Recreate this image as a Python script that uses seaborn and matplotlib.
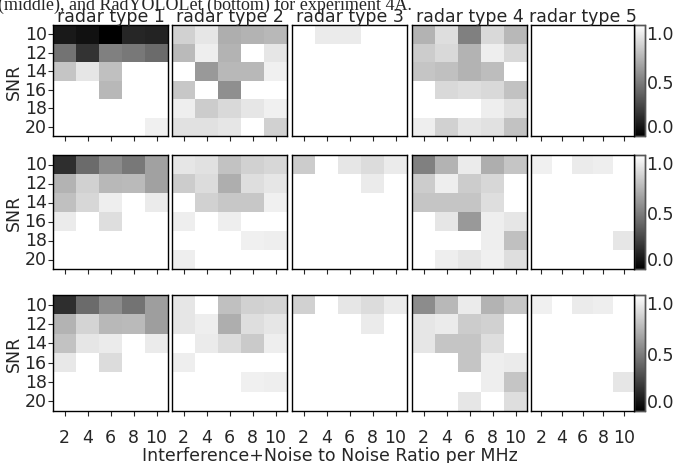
import numpy as np
import pandas as pd
import matplotlib
matplotlib.use("Agg")
import matplotlib.pyplot as plt
import seaborn as sns

snr = [10, 12, 14, 16, 18, 20]
inr = [2, 4, 6, 8, 10]
radar_titles = ["radar type 1", "radar type 2", "radar type 3", "radar type 4", "radar type 5"]

# Row 1 (top)
top_r1 = [[0.10, 0.07, 0.00, 0.15, 0.14],
          [0.45, 0.20, 0.50, 0.47, 0.42],
          [0.77, 0.90, 0.75, 1.00, 1.00],
          [1.00, 1.00, 0.72, 1.00, 1.00],
          [1.00, 1.00, 1.00, 1.00, 1.00],
          [1.00, 1.00, 1.00, 1.00, 0.94]]
top_r2 = [[0.82, 0.90, 0.68, 0.70, 0.72],
          [0.73, 0.93, 0.70, 1.00, 0.90],
          [1.00, 0.60, 0.72, 0.72, 0.94],
          [0.78, 1.00, 0.56, 1.00, 1.00],
          [0.93, 0.80, 0.85, 0.90, 0.94],
          [0.88, 0.88, 0.90, 1.00, 0.82]]
top_r3 = [[1.00, 0.92, 0.92, 1.00, 1.00],
          [1.00, 1.00, 1.00, 1.00, 1.00],
          [1.00, 1.00, 1.00, 1.00, 1.00],
          [1.00, 1.00, 1.00, 1.00, 1.00],
          [1.00, 1.00, 1.00, 1.00, 1.00],
          [1.00, 1.00, 1.00, 1.00, 1.00]]
top_r4 = [[0.70, 0.87, 0.50, 0.85, 0.72],
          [0.80, 0.85, 0.70, 0.93, 0.85],
          [0.77, 0.75, 0.70, 0.74, 1.00],
          [1.00, 0.85, 0.87, 0.85, 0.76],
          [1.00, 1.00, 1.00, 0.93, 0.88],
          [0.93, 0.82, 0.90, 0.88, 0.76]]
top_r5 = [[1.00] * 5 for _ in range(6)]

# Row 2 (middle)
mid_r1 = [[0.18, 0.42, 0.55, 0.47, 0.63],
          [0.70, 0.82, 0.72, 0.73, 0.63],
          [0.75, 0.84, 0.93, 1.00, 0.92],
          [0.92, 1.00, 0.87, 1.00, 1.00],
          [1.00, 1.00, 1.00, 1.00, 1.00],
          [1.00, 1.00, 1.00, 1.00, 1.00]]
mid_r2 = [[0.90, 0.88, 0.76, 0.82, 0.84],
          [0.80, 0.86, 0.68, 0.87, 0.90],
          [1.00, 0.82, 0.78, 0.78, 0.94],
          [0.93, 1.00, 0.93, 1.00, 1.00],
          [1.00, 1.00, 1.00, 0.94, 0.93],
          [0.93, 1.00, 1.00, 1.00, 1.00]]
mid_r3 = [[0.80, 1.00, 0.90, 0.86, 0.92],
          [1.00, 1.00, 1.00, 0.92, 1.00],
          [1.00, 1.00, 1.00, 1.00, 1.00],
          [1.00, 1.00, 1.00, 1.00, 1.00],
          [1.00, 1.00, 1.00, 1.00, 1.00],
          [1.00, 1.00, 1.00, 1.00, 1.00]]
mid_r4 = [[0.50, 0.70, 0.92, 0.68, 0.77],
          [0.80, 0.93, 0.80, 0.84, 1.00],
          [0.77, 0.77, 0.77, 0.87, 1.00],
          [1.00, 0.90, 0.60, 0.93, 0.90],
          [1.00, 1.00, 1.00, 0.93, 0.75],
          [1.00, 0.93, 0.90, 0.94, 0.87]]
mid_r5 = [[0.94, 1.00, 0.92, 0.93, 1.00],
          [1.00, 1.00, 1.00, 1.00, 1.00],
          [1.00, 1.00, 1.00, 1.00, 1.00],
          [1.00, 1.00, 1.00, 1.00, 1.00],
          [1.00, 1.00, 1.00, 1.00, 0.90],
          [1.00, 1.00, 1.00, 1.00, 1.00]]

# Row 3 (bottom)
bot_r1 = [[0.18, 0.42, 0.55, 0.45, 0.62],
          [0.70, 0.83, 0.72, 0.73, 0.62],
          [0.76, 0.90, 0.92, 1.00, 0.92],
          [0.91, 1.00, 0.86, 1.00, 1.00],
          [1.00, 1.00, 1.00, 1.00, 1.00],
          [1.00, 1.00, 1.00, 1.00, 1.00]]
bot_r2 = [[0.90, 1.00, 0.75, 0.82, 0.83],
          [0.90, 0.93, 0.68, 0.87, 0.90],
          [1.00, 0.92, 0.86, 0.79, 0.93],
          [0.93, 1.00, 1.00, 1.00, 1.00],
          [1.00, 1.00, 1.00, 0.94, 0.93],
          [1.00, 1.00, 1.00, 1.00, 1.00]]
bot_r3 = [[0.82, 1.00, 0.90, 0.86, 0.92],
          [1.00, 1.00, 1.00, 0.92, 1.00],
          [1.00, 1.00, 1.00, 1.00, 1.00],
          [1.00, 1.00, 1.00, 1.00, 1.00],
          [1.00, 1.00, 1.00, 1.00, 1.00],
          [1.00, 1.00, 1.00, 1.00, 1.00]]
bot_r4 = [[0.55, 0.72, 0.92, 0.70, 0.78],
          [0.90, 0.92, 0.80, 0.82, 1.00],
          [0.90, 0.77, 0.77, 0.87, 1.00],
          [1.00, 1.00, 0.77, 0.93, 0.92],
          [1.00, 1.00, 1.00, 0.93, 0.77],
          [1.00, 1.00, 0.90, 1.00, 0.87]]
bot_r5 = [[0.94, 1.00, 0.92, 0.93, 1.00],
          [1.00, 1.00, 1.00, 1.00, 1.00],
          [1.00, 1.00, 1.00, 1.00, 1.00],
          [1.00, 1.00, 1.00, 1.00, 1.00],
          [1.00, 1.00, 1.00, 1.00, 0.90],
          [1.00, 1.00, 1.00, 1.00, 1.00]]

rows_data = [[top_r1, top_r2, top_r3, top_r4, top_r5],
             [mid_r1, mid_r2, mid_r3, mid_r4, mid_r5],
             [bot_r1, bot_r2, bot_r3, bot_r4, bot_r5]]

sns.set_style("white")
plt.rcParams['font.family'] = ['DejaVu Sans']
FS = 12.5

W, H = 675, 464
fig = plt.figure(figsize=(W / 100, H / 100), dpi=100)

# pixel layout (left, right) of columns; (top, bottom) of rows
col_px = [(53, 168), (172, 287), (292, 407), (412, 527), (531, 634)]
row_px = [(26, 137), (156, 270), (296, 412)]
cbar_px = (634, 645)

def frac(x0, x1, y0, y1):
    return [x0 / W, 1 - y1 / H, (x1 - x0) / W, (y1 - y0) / H]

for r, (yt, yb) in enumerate(row_px):
    cax = fig.add_axes(frac(cbar_px[0], cbar_px[1], yt, yb))
    for c, (xl, xr) in enumerate(col_px):
        ax = fig.add_axes(frac(xl, xr, yt, yb))
        df = pd.DataFrame(rows_data[r][c], index=snr, columns=inr)
        last = (c == 4)
        sns.heatmap(df, ax=ax, cmap="gray", vmin=0, vmax=1,
                    cbar=last, cbar_ax=cax if last else None)
        for s in ax.spines.values():
            s.set_visible(True)
            s.set_color("black")
            s.set_linewidth(1.0)
        ax.tick_params(axis="x", bottom=True, length=3.5, width=0.8,
                       labelsize=FS, pad=9, labelrotation=0)
        if r < 2:
            ax.set_xticklabels([])
        else:
            ax.set_xticklabels([str(v) for v in inr])
        ax.set_xlabel("")
        if c == 0:
            ax.tick_params(axis="y", left=True, length=3.5, width=0.8,
                           labelsize=FS, pad=1, labelrotation=0)
            ax.set_yticklabels([str(v) for v in snr])
            ax.set_ylabel("SNR", fontsize=FS, labelpad=1)
        else:
            ax.set_yticks([])
            ax.set_ylabel("")
        if r == 0:
            ax.set_title(radar_titles[c], fontsize=FS, pad=2)
    cax.tick_params(labelsize=FS, length=0, pad=1)
    cax.set_yticks([0.0, 0.5, 1.0])
    cax.set_yticklabels(["0.0", "0.5", "1.0"])
    labs = cax.get_yticklabels()
    labs[0].set_verticalalignment("bottom")
    labs[2].set_verticalalignment("top")
    for s in cax.spines.values():
        s.set_visible(True)
        s.set_color("#555555")
        s.set_linewidth(1.0)

fig.text(0.5 - 8 / W, 1 - 456 / H, "Interference+Noise to Noise Ratio per MHz",
         ha="center", va="center", fontsize=FS)
fig.text(-2 / W, 1 - 10 / H, "(middle), and RadYOLOLet (bottom) for experiment 4A.",
         ha="left", va="baseline", fontsize=13, family=["Liberation Serif"])

fig.savefig("out.png", dpi=100)
